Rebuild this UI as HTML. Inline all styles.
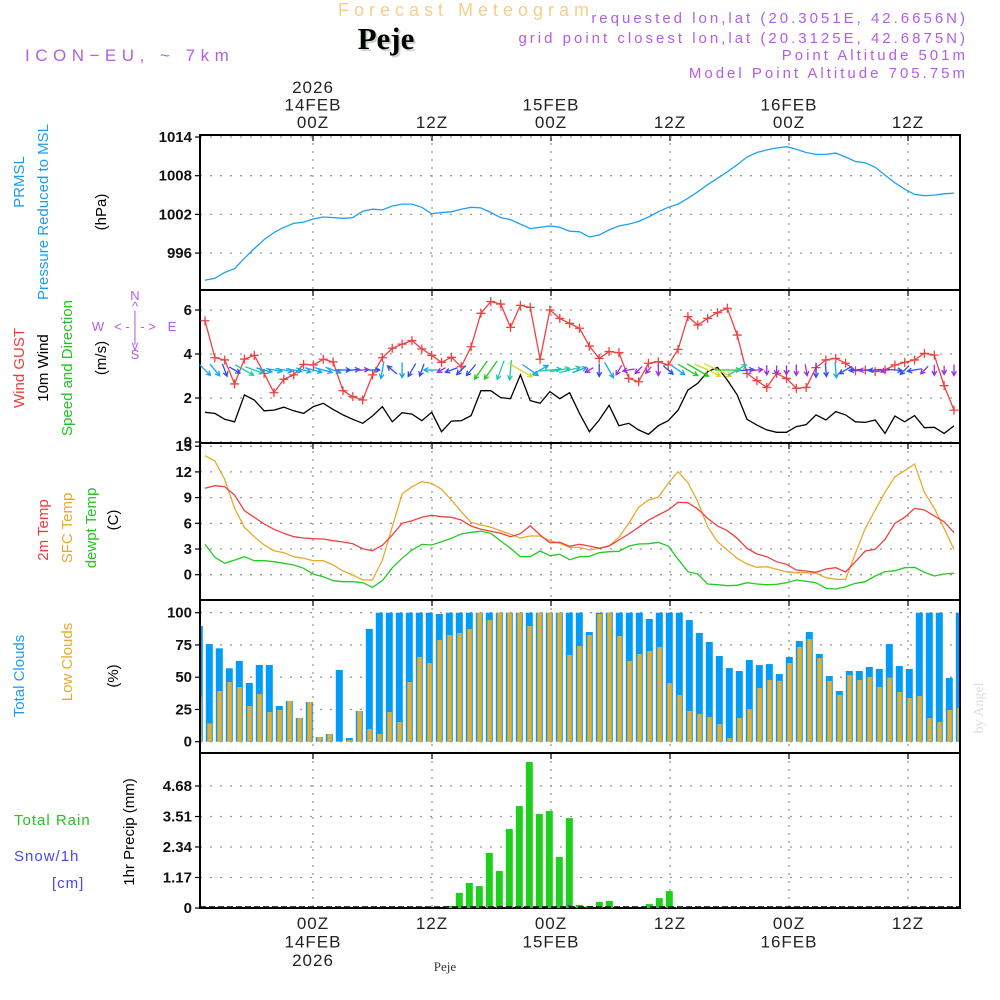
<!DOCTYPE html>
<html><head><meta charset="utf-8"><style>
html,body{margin:0;padding:0;background:#fff;}
svg{display:block;font-family:"Liberation Sans",sans-serif;}
</style></head><body>
<svg id="chart" width="1000" height="1000" viewBox="0 0 1000 1000" xmlns="http://www.w3.org/2000/svg">
<rect width="1000" height="1000" fill="#fff"/>
<text x="466" y="16" text-anchor="middle" font-size="18" fill="#f4cf8a" letter-spacing="5">Forecast Meteogram</text>
<text x="388" y="51" text-anchor="middle" font-size="31" font-weight="bold" font-family="Liberation Serif,serif" fill="#c9d8c9">Peje</text>
<text x="386" y="49" text-anchor="middle" font-size="31" font-weight="bold" font-family="Liberation Serif,serif" fill="#000">Peje</text>
<text x="25" y="61" font-size="17" fill="#b35de8" letter-spacing="5.5">ICON−EU, ~ 7km</text>
<g font-size="15" fill="#b35de8" text-anchor="end" letter-spacing="3">
<text x="968" y="23">requested lon,lat (20.3051E, 42.6656N)</text>
<text x="968" y="43">grid point closest lon,lat (20.3125E, 42.6875N)</text>
<text x="968" y="60">Point Altitude 501m</text>
<text x="968" y="78">Model Point Altitude 705.75m</text>
</g>
<g id="axes"></g>
<g id="marks"></g>
<g font-size="15">
<text transform="translate(24,182) rotate(-90)" text-anchor="middle" fill="#1e9bf0">PRMSL</text>
<text transform="translate(48,212) rotate(-90)" text-anchor="middle" fill="#1e9bf0">Pressure Reduced to MSL</text>
<text transform="translate(106,212) rotate(-90)" text-anchor="middle" fill="#000">(hPa)</text>
<text transform="translate(24,368) rotate(-90)" text-anchor="middle" fill="#f03c3c">Wind GUST</text>
<text transform="translate(48,368) rotate(-90)" text-anchor="middle" fill="#000">10m Wind</text>
<text transform="translate(72,368) rotate(-90)" text-anchor="middle" fill="#22c422">Speed and Direction</text>
<text transform="translate(106,358) rotate(-90)" text-anchor="middle" fill="#000">(m/s)</text>
<text transform="translate(48,530) rotate(-90)" text-anchor="middle" fill="#f03c3c">2m Temp</text>
<text transform="translate(72,528) rotate(-90)" text-anchor="middle" fill="#e8a92e">SFC Temp</text>
<text transform="translate(96,528) rotate(-90)" text-anchor="middle" fill="#22c422">dewpt Temp</text>
<text transform="translate(118,520) rotate(-90)" text-anchor="middle" fill="#000">(C)</text>
<text transform="translate(24,676) rotate(-90)" text-anchor="middle" fill="#1e9bf0">Total Clouds</text>
<text transform="translate(72,662) rotate(-90)" text-anchor="middle" fill="#e8a92e">Low Clouds</text>
<text transform="translate(118,676) rotate(-90)" text-anchor="middle" fill="#000">(%)</text>
<text x="14" y="825" fill="#22c422" letter-spacing="1">Total  Rain</text>
<text x="14" y="861" fill="#4646f0" letter-spacing="1">Snow/1h</text>
<text x="52" y="888" fill="#4646f0" letter-spacing="1">[cm]</text>
<text transform="translate(134,832) rotate(-90)" text-anchor="middle" fill="#000">1hr Precip (mm)</text>
</g>
<g font-size="13" fill="#b35de8" text-anchor="middle">
<text x="135" y="300">N</text><text x="135" y="311">^</text><text x="135" y="320">|</text>
<text x="98" y="331">W</text><text x="135" y="331">&lt; - | - &gt;</text><text x="172" y="331">E</text>
<text x="135" y="342">|</text><text x="135" y="350">v</text><text x="135" y="359">S</text>
</g>
<text x="445" y="971" text-anchor="middle" font-size="13" font-family="Liberation Serif,serif" fill="#333">Peje</text>
<text transform="translate(983,708) rotate(-90)" text-anchor="middle" font-size="14" font-family="Liberation Serif,serif" fill="#ddd">by Angel</text>
</svg>
<script>
const pressure=[991.8,992.1,993.0,993.6,995.2,996.7,998.1,999.2,1000.0,1000.6,1000.8,1001.3,1001.6,1001.5,1001.4,1001.5,1002.5,1002.8,1002.7,1003.3,1003.6,1003.6,1003.1,1002.1,1002.3,1002.4,1002.8,1003.1,1003.0,1002.3,1001.5,1001.2,1000.5,999.8,1000.0,1000.2,1000.0,999.4,999.3,998.5,998.8,999.6,1000.2,1000.5,1000.9,1001.6,1002.4,1003.1,1003.6,1004.5,1005.5,1006.6,1007.6,1008.6,1009.7,1010.9,1011.6,1012.0,1012.3,1012.5,1012.1,1011.6,1011.3,1011.3,1011.5,1010.9,1010.2,1010.0,1009.3,1008.1,1006.9,1005.9,1005.1,1004.9,1005.0,1005.2,1005.3];
const gust=[5.51,3.83,3.73,2.64,3.77,3.94,3.12,2.24,2.85,3.05,3.53,3.5,3.76,3.64,2.33,2.06,1.91,3.05,3.83,4.26,4.45,4.61,4.23,3.94,3.62,3.85,3.42,4.33,5.85,6.38,6.27,5.21,6.21,6.12,3.76,6.0,5.62,5.39,5.17,4.36,3.80,4.11,4.06,2.89,2.74,3.58,3.65,3.50,4.21,5.70,5.32,5.62,5.88,6.08,4.86,3.12,2.79,2.48,3.12,2.89,2.44,2.48,3.38,3.73,3.80,3.58,3.24,3.27,3.20,3.27,3.50,3.62,3.73,4.03,3.95,2.56,1.45];
const wind10=[1.35,1.30,1.03,0.92,2.14,1.91,1.42,1.45,1.58,1.42,1.30,1.61,1.76,1.48,1.23,1.03,0.85,1.18,1.61,0.92,1.33,1.27,0.97,1.35,0.47,0.95,0.97,1.20,2.33,2.33,2.02,1.97,3.05,1.88,1.76,2.29,1.97,2.24,1.30,0.47,1.0,1.67,0.74,0.85,0.55,0.35,0.74,0.97,1.45,2.36,2.67,3.20,3.39,2.82,2.14,1.03,0.77,0.55,0.44,0.44,0.70,0.79,1.23,1.0,1.38,1.23,0.92,0.89,1.0,0.39,1.18,0.92,1.20,0.65,0.67,0.39,0.73];
const windDir=[315,320,340,300,300,290,285,280,280,280,285,285,285,290,270,265,265,270,10,130,0,30,20,90,60,70,45,40,35,35,20,5,300,305,240,265,260,255,250,60,0,330,30,80,45,40,0,310,305,300,300,295,295,270,240,265,265,0,0,0,0,350,0,355,355,60,85,85,85,60,275,45,80,45,0,0,0];
const temp2m=[10.08,10.39,10.27,9.30,7.47,6.70,5.92,5.30,4.83,4.44,4.28,4.20,4.17,3.97,3.82,3.62,3.04,2.80,3.43,4.63,6.00,6.30,6.70,6.93,6.77,6.70,6.38,5.68,5.30,5.07,4.83,4.44,4.79,5.72,4.63,3.74,3.78,3.31,3.55,3.35,3.08,3.35,4.05,4.75,5.53,6.38,6.97,7.55,8.45,8.40,7.67,6.58,5.68,5.14,4.25,3.08,2.42,2.10,1.52,1.21,0.55,0.43,0.28,0.67,0.82,0.32,1.52,2.77,2.96,4.13,6.00,6.70,7.75,7.55,6.85,6.19,4.90];
const tempSfc=[13.89,13.27,11.13,7.75,5.53,4.44,3.47,2.80,2.57,2.10,1.91,1.63,1.63,1.13,0.43,-0.04,-0.62,-0.62,1.72,5.60,9.42,10.27,10.86,10.67,9.97,8.72,7.35,6.12,5.80,5.53,5.14,4.72,4.28,4.52,4.52,3.97,3.66,3.19,3.19,2.88,3.08,3.35,4.36,6.00,7.87,8.72,9.03,10.67,12.02,10.74,8.52,5.60,3.85,2.88,1.91,1.25,0.86,0.93,0.63,0.35,0.23,0.23,0.16,-0.35,-0.54,-0.54,2.50,5.42,7.55,9.62,11.44,12.14,12.92,9.62,7.75,5.42,2.96];
const dewpt=[3.54,2.03,1.33,1.71,2.10,1.63,1.63,1.52,1.33,1.13,0.75,0.05,-0.23,-0.70,-0.82,-0.82,-0.93,-1.47,-0.70,0.82,1.91,2.88,3.54,3.47,3.85,4.25,4.75,4.95,5.07,4.83,3.93,3.08,2.10,2.10,2.77,2.22,2.38,1.75,2.10,2.15,2.57,2.69,2.73,3.35,3.58,3.62,3.78,3.35,1.80,0.35,0.08,-1.09,-1.17,-1.28,-1.24,-0.93,-1.09,-1.17,-1.12,-0.93,-0.62,-0.77,-0.93,-1.59,-1.67,-1.40,-1.00,-0.82,-0.15,0.35,0.47,0.82,0.86,0.28,-0.15,0.08,0.16];
const totalClouds=[89.7,75.7,72.4,56.9,62.6,45.5,59.5,59.5,27.7,31.6,18.4,30.8,3.6,6.0,55.6,2.9,23.8,87.4,100,100,100,100,100,100,99.0,100,100,100,100,100,100,100,100,100,100,100,100,100,100,85.0,100,100,100,100,100,95.1,100,100,100,94.3,84.3,77.3,66.4,57.1,54.8,63.3,59.5,60.2,52.5,65.7,78.1,85.0,68.0,50.9,39.3,54.8,54.8,57.9,56.4,75.7,58.7,56.4,100,100,100,49.4,100];
const lowClouds=[34.9,14.2,39.3,46.3,42.4,27.7,37.0,23.0,24.6,31.6,18.4,30.8,3.6,6.0,0.5,1.3,23.8,9.8,6.0,23.0,15.3,46.3,65.7,61.0,78.8,82.7,84.3,87.4,100,94.3,100,100,100,89.7,100,100,100,67.2,74.2,82.7,99.0,100,81.9,62.6,68.0,70.3,73.4,45.5,36.2,23.8,21.5,19.1,13.7,2.9,18.4,25.3,41.6,47.8,47.1,61.0,73.4,79.6,64.9,47.1,36.2,51.7,47.8,50.2,42.4,49.6,38.5,33.9,35.4,18.4,15.3,24.6,26.1];
const rain=[0,0,0,0,0,0,0,0,0,0,0,0,0,0,0,0,0,0,0,0,0,0,0,0,0,0.08,0.58,0.96,0.84,2.11,1.42,3.03,3.91,5.60,3.61,3.72,1.96,3.45,0.12,0.08,0.23,0.27,0,0,0,0.15,0.38,0.65,0.04,0,0,0,0,0,0,0,0,0,0,0,0,0,0,0,0,0,0,0,0,0,0,0,0,0,0,0,0];
const snow=[0,0,0,0,0,0,0,0,0,0,0,0,0,0,0,0,0,0,0,0,0,0,0,0,0,0,0,0,0,0,0,0,0,0,0,0,0,0.12,0,0,0,0,0,0,0,0,0,0,0,0,0,0,0,0,0,0,0,0,0,0,0,0,0,0,0,0,0,0,0,0,0,0,0,0,0,0,0];
const pressureTicks=["1014","1008","1002","996"];
const windTicks=["6","4","2","0"];
const tempTicks=["15","12","9","6","3","0"];
const cloudTicks=["100","75","50","25","0"];
const precipTicks=["4.68","3.51","2.34","1.17","0"];
const topTimeLabels=[["2026","14FEB","00Z"],["","","12Z"],["","15FEB","00Z"],["","","12Z"],["","16FEB","00Z"],["","","12Z"]];
const bottomTimeLabels=[["00Z","14FEB","2026"],["12Z","",""],["00Z","15FEB",""],["12Z","",""],["00Z","16FEB",""],["12Z","",""]];

const NS="http://www.w3.org/2000/svg";
const X0=200,X1=960;
const N=pressure.length;
function xp(i){return 205+i*(749/(N-1));}
function xb(i){return 199.3+i*10;}
function timeX(h){return 313+h*(595/60);}
const panels={
 p:{top:135,bot:290,lin:v=>137+(1014-v)*38.7/6},
 w:{top:290,bot:443,lin:v=>442-v*22},
 t:{top:443,bot:600,lin:v=>574.7-v*25.7/3},
 c:{top:600,bot:753,lin:v=>741.7-v*1.29},
 r:{top:753,bot:908,lin:v=>908-v*30.5/1.17}
};
const axes=document.getElementById('axes');
const marks=document.getElementById('marks');
function mk(tag,attrs,parent){const e=document.createElementNS(NS,tag);for(const k in attrs)e.setAttribute(k,attrs[k]);(parent||marks).appendChild(e);return e;}

const gridDefs=[["p",pressureTicks],["w",windTicks],["t",tempTicks],["c",cloudTicks],["r",precipTicks]];
const gridNames={p:"pressure",w:"wind",t:"temperature",c:"clouds",r:"precip"};
gridDefs.forEach(([k,ticks])=>{
 const P=panels[k];
 const g=mk('g',{},axes);
 
 
 for(let h=0;h<=60;h+=12){
  const x=timeX(h);
  const l=mk('line',{x1:x,x2:x,y1:P.top,y2:P.bot,stroke:'#999','stroke-dasharray':'2,6','stroke-width':1.3},g);
  
  
  const tk=mk('line',{x1:x,x2:x,y1:P.top,y2:P.top+6,stroke:'#000','stroke-width':1.2},g);
  
  
 }
 ticks.forEach(t=>{
  const y=P.lin(parseFloat(t));
  const l=mk('line',{x1:X0,x2:X1,y1:y,y2:y,stroke:'#999','stroke-dasharray':'2,8','stroke-width':1.3},g);
  
  
  const tk=mk('line',{x1:X0-5,x2:X0,y1:y,y2:y,stroke:'#000','stroke-width':1.2},g);
  
  
  const tx=mk('text',{x:X0-8,y:y+5,'text-anchor':'end','font-size':15,'font-weight':'bold',fill:'#111'},g);
  
  
  tx.textContent=t;
 });
 const fr=mk('rect',{x:X0,y:P.top,width:X1-X0,height:P.bot-P.top,fill:'none',stroke:'#000','stroke-width':2},g);
 
 
});
topTimeLabels.forEach((arr,j)=>{
 const x=timeX(j*12);
 arr.forEach((s,r)=>{ if(!s)return;
  const t=mk('text',{x:x,y:93+r*17.5,'text-anchor':'middle','font-size':17,fill:'#222','letter-spacing':1},axes);
  
  
  t.textContent=s;});
});
bottomTimeLabels.forEach((arr,j)=>{
 const x=timeX(j*12);
 arr.forEach((s,r)=>{ if(!s)return;
  const t=mk('text',{x:x,y:929+r*18.5,'text-anchor':'middle','font-size':17,fill:'#222','letter-spacing':1},axes);
  
  
  t.textContent=s;});
});

function line(arr,P,color,name,w){
 const d=arr.map((v,i)=>(i?'L':'M')+xp(i).toFixed(1)+','+P.lin(v).toFixed(1)).join('');
 const p=mk('path',{d:d,fill:'none',stroke:color,'stroke-width':w||1.3});
 
 
}
line(pressure,panels.p,'#1ea0f5','pressure-line');
line(wind10,panels.w,'#000','wind-speed-line');
line(gust,panels.w,'#f04040','gust-line');
gust.forEach((v,i)=>{
 const x=xp(i),y=panels.w.lin(v);
 const m=mk('path',{d:`M${x-4.5},${y}H${x+4.5}M${x},${y-4.5}V${y+4.5}`,stroke:'#f04040','stroke-width':1.3});
 
 
});
function spdColor(s){
 if(s<0.9)return '#9a2ee6';
 if(s<1.3)return '#2b4cf5';
 if(s<1.9)return '#12a6f0';
 if(s<2.3)return '#1cc9a8';
 if(s<3.0)return '#22cc22';
 return '#d8d820';
}
windDir.forEach((d,i)=>{
 const s=wind10[i],len=6+7*s,r=d*Math.PI/180;
 const dx=-Math.sin(r),dy=Math.cos(r);
 const cx=xp(i),cy=370;
 const x1=cx-dx*len/2,y1=cy-dy*len/2,x2=cx+dx*len/2,y2=cy+dy*len/2;
 const a=0.5,h=5;
 const hx1=x2-h*(dx*Math.cos(a)-dy*Math.sin(a)),hy1=y2-h*(dy*Math.cos(a)+dx*Math.sin(a));
 const hx2=x2-h*(dx*Math.cos(a)+dy*Math.sin(a)),hy2=y2-h*(dy*Math.cos(a)-dx*Math.sin(a));
 const p=mk('path',{d:`M${x1},${y1}L${x2},${y2}M${hx1},${hy1}L${x2},${y2}L${hx2},${hy2}`,stroke:spdColor(s),'stroke-width':1.3,fill:'none'});
 
 
});
line(tempSfc,panels.t,'#e8a92e','sfc-temp-line');
line(temp2m,panels.t,'#f04040','temp-2m-line');
line(dewpt,panels.t,'#22cc22','dewpoint-line');

const clip=mk('clipPath',{id:'pc'});
mk('rect',{x:X0+1,y:0,width:X1-X0-2,height:1000},clip);
const cg=mk('g',{'clip-path':'url(#pc)'});
totalClouds.forEach((v,i)=>{
 const y=panels.c.lin(v),y0=panels.c.lin(0);
 const b=mk('rect',{x:xb(i)-3.5,y:y,width:7,height:y0-y,fill:'#009cf7'},cg);
 
 
});
lowClouds.forEach((v,i)=>{
 const y=panels.c.lin(v),y0=panels.c.lin(0);
 const b=mk('rect',{x:xb(i)-2,y:y,width:4.5,height:y0-y,fill:'#e6ad2e'},cg);
 
 
});
rain.forEach((v,i)=>{
 if(v<=0)return;
 const y=panels.r.lin(v),y0=panels.r.lin(0);
 const b=mk('rect',{x:xb(i)-3.5,y:y,width:7,height:y0-y,fill:'#1ecf1e'},cg);
 
 
});
snow.forEach((v,i)=>{
 if(v<=0)return;
 const y=panels.r.lin(v),y0=panels.r.lin(0);
 const b=mk('rect',{x:xb(i)-1.5,y:y,width:3,height:y0-y,fill:'#4646f0'},cg);
 
 
});
const base=mk('line',{x1:X0,x2:X1,y1:907,y2:907,stroke:'#000','stroke-width':1.5,'stroke-dasharray':'6,3'});


</script>
</body></html>
